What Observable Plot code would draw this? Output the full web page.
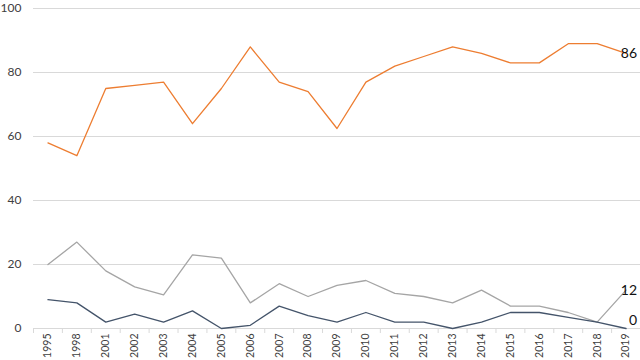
<!DOCTYPE html>
<html><head><meta charset="utf-8">
<script src="https://cdn.jsdelivr.net/npm/d3@7"></script>
<script src="https://cdn.jsdelivr.net/npm/@observablehq/plot@0.6"></script>
<style>
body{margin:0;background:#fff;font-family:Lato,"Open Sans",sans-serif}
#chart svg{display:block;overflow:visible}
</style>
</head><body><div id="chart"></div>
<script>
const years = ["1995","1998","2001","2002","2003","2004","2005","2006","2007","2008","2009","2010","2011","2012","2013","2014","2015","2016","2017","2018","2019"];
const orangeValues = [58,54,75,76,77,64,75,88,77,74,62.5,77,82,85,88,86,83,83,89,89,86];
const grayValues   = [20,27,18,13,10.5,23,22,8,14,10,13.5,15,11,10,8,12,7,7,5,2,12];
const darkValues   = [9,8,2,4.5,2,5.5,0,1,7,4,2,5,2,2,0,2,5,5,3.5,2,0];
const seriesNames = ["orange","gray","dark"];
const seriesColors = ["#ed7d31","#a5a5a5","#44546a"];
const yTicks = [0,20,40,60,80,100];

const allValues = [orangeValues, grayValues, darkValues];
const rows = [];
allValues.forEach((vals, s) => vals.forEach((v, i) => rows.push({i, year: years[i], value: v, series: seriesNames[s]})));
const last = rows.filter(d => d.i === years.length - 1);
const idx = years.map((_, i) => i);
const bounds = years.map((_, i) => i - 0.5).concat([years.length - 0.5]);

const chart = Plot.plot({
  width: 640,
  height: 360,
  marginLeft: 33,
  marginRight: 0,
  marginTop: 8,
  marginBottom: 32,
  style: {fontFamily: "Lato, 'Open Sans', sans-serif", background: "#fff", overflow: "visible"},
  x: {domain: [-0.5, years.length - 0.5], axis: null, label: null},
  y: {domain: [0, 100], axis: null, label: null},
  color: {domain: seriesNames, range: seriesColors},
  marks: [
    Plot.ruleY(yTicks, {stroke: "#d9d9d9", strokeWidth: 1}),
    Plot.axisX({ticks: bounds, tickFormat: () => "", tickSize: 5, stroke: "#d9d9d9", label: null}),
    Plot.axisX({ticks: idx, tickFormat: i => years[i], tickSize: 0, tickPadding: 5, tickRotate: -90, fontSize: 10.5, fill: "#404040", label: null}),
    Plot.axisY({ticks: yTicks, tickSize: 0, tickPadding: 12, fontSize: 12, fill: "#404040", label: null}),
    Plot.line(rows, {x: "i", y: "value", z: "series", stroke: "series", strokeWidth: 1.3}),
    Plot.text(last.filter(d => d.value !== 0), {x: "i", y: "value", text: d => String(d.value), textAnchor: "end", dx: 11, fontSize: 14, fill: "#111"}),
    Plot.text(last.filter(d => d.value === 0), {x: "i", y: "value", text: d => String(d.value), textAnchor: "end", dx: 11, dy: -8, fontSize: 14, fill: "#111"})
  ]
});
document.getElementById("chart").appendChild(chart);
</script>
</body></html>
